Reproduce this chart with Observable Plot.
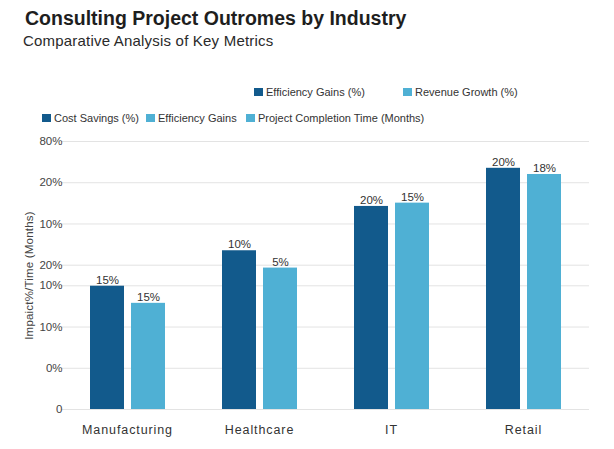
<!DOCTYPE html>
<html>
<head>
<meta charset="utf-8">
<script src="https://cdn.jsdelivr.net/npm/d3@7"></script>
<script src="https://cdn.jsdelivr.net/npm/@observablehq/plot@0.6"></script>
<style>
  html, body { margin: 0; padding: 0; background: #fff; }
  #wrap { position: relative; width: 614px; height: 449px; font-family: "Liberation Sans", Arial, Helvetica, sans-serif; color: #222; }
  #title { position: absolute; left: 25px; top: 7px; font-size: 19.5px; font-weight: bold; color: #1e1e1e; white-space: nowrap; }
  #subtitle { position: absolute; left: 23px; top: 32px; font-size: 15px; letter-spacing: 0.2px; color: #2a2a2a; white-space: nowrap; }
  .lg { position: absolute; font-size: 11px; color: #333; white-space: nowrap; display: flex; align-items: center; }
  .lg i { display: inline-block; width: 9px; height: 8px; margin-right: 3px; }
  #chart { position: absolute; left: 0; top: 125px; }
  #chart [aria-label="fx-axis tick label"] text { letter-spacing: 0.9px; }
  #chart [aria-label="y-axis label"] text { letter-spacing: 0.2px; }
</style>
</head>
<body>
<div id="wrap">
  <div id="title">Consulting Project Outromes by Industry</div>
  <div id="subtitle">Comparative Analysis of Key Metrics</div>
  <div id="legend"></div>
  <div id="chart"></div>
</div>
<script>
// Data
const industries = ["Manufacturing", "Healthcare", "IT", "Retail"];
const seriesNames = ["Efficiency Gains (%)", "Revenue Growth (%)"];
const seriesColors = ["#125a8c", "#4fb0d4"];
const efficiencyValues = [29.9, 38.5, 49.25, 58.5];
const revenueValues = [25.75, 34.3, 50.05, 57.0];
const efficiencyLabels = ["15%", "10%", "20%", "20%"];
const revenueLabels = ["15%", "5%", "15%", "18%"];
const yTickValues = [0, 10, 20, 30, 35, 45, 55, 65];
const yTickLabels = ["0", "0%", "10%", "10%", "20%", "10%", "20%", "80%"];
const legendRow1 = [
  {name: "Efficiency Gains (%)", color: "#125a8c", left: 254, top: 86},
  {name: "Revenue Growth (%)", color: "#4fb0d4", left: 403, top: 86}
];
const legendRow2 = [
  {name: "Cost Savings (%)", color: "#125a8c", left: 42, top: 112},
  {name: "Efficiency Gains", color: "#4fb0d4", left: 146, top: 112},
  {name: "Project Completion Time (Months)", color: "#4fb0d4", left: 246, top: 112}
];

const rows = [];
industries.forEach((ind, i) => {
  rows.push({industry: ind, series: seriesNames[0], value: efficiencyValues[i], label: efficiencyLabels[i]});
  rows.push({industry: ind, series: seriesNames[1], value: revenueValues[i], label: revenueLabels[i]});
});

// Legend
const lg = document.getElementById("legend");
[...legendRow1, ...legendRow2].forEach(d => {
  const el = document.createElement("div");
  el.className = "lg";
  el.style.left = d.left + "px";
  el.style.top = d.top + "px";
  el.innerHTML = `<i style="background:${d.color}"></i><span>${d.name}</span>`;
  lg.appendChild(el);
});

function build(useSuper) {
  const gridMark = useSuper
    ? Plot.ruleY(yTickValues, {y: d => d, stroke: "#e3e3e3", strokeWidth: 1, insetLeft: 15, facet: "super"})
    : Plot.gridY(yTickValues, {stroke: "#e3e3e3", strokeOpacity: 1, strokeWidth: 1});
  return Plot.plot({
    width: 614,
    height: 324,
    marginTop: 16,
    marginBottom: 40,
    marginLeft: 61,
    marginRight: 25,
    style: {fontFamily: "'Liberation Sans', Arial, Helvetica, sans-serif", fontSize: "11px", color: "#444", background: "#fff"},
    fx: {domain: industries, paddingInner: 0, paddingOuter: 0, label: null},
    x: {domain: seriesNames, paddingInner: 0.175, paddingOuter: 0.674, axis: null},
    y: {domain: [0, 65], axis: null},
    color: {domain: seriesNames, range: seriesColors},
    marks: [
      gridMark,
      Plot.barY(rows, {fx: "industry", x: "series", y: "value", fill: "series"}),
      Plot.text(rows, {fx: "industry", x: "series", y: "value", text: "label", lineAnchor: "bottom", dy: -2.5, fill: "#333", fontSize: 11.5}),
      Plot.axisY(yTickValues, {
        tickFormat: (d, i) => yTickLabels[i],
        tickSize: 0, tickPadding: 0, dx: 1,
        fill: "#444", fontSize: 11.5,
        label: "Impaict%/Time (Months)", labelAnchor: "center", labelOffset: 37, labelArrow: "none"
      }),
      Plot.axisFx({anchor: "bottom", tickSize: 0, tickPadding: 16, fontSize: 12.5, fill: "#333", label: null})
    ]
  });
}

let chart;
try { chart = build(true); } catch (e) { chart = build(false); }
document.getElementById("chart").appendChild(chart);
</script>
</body>
</html>
